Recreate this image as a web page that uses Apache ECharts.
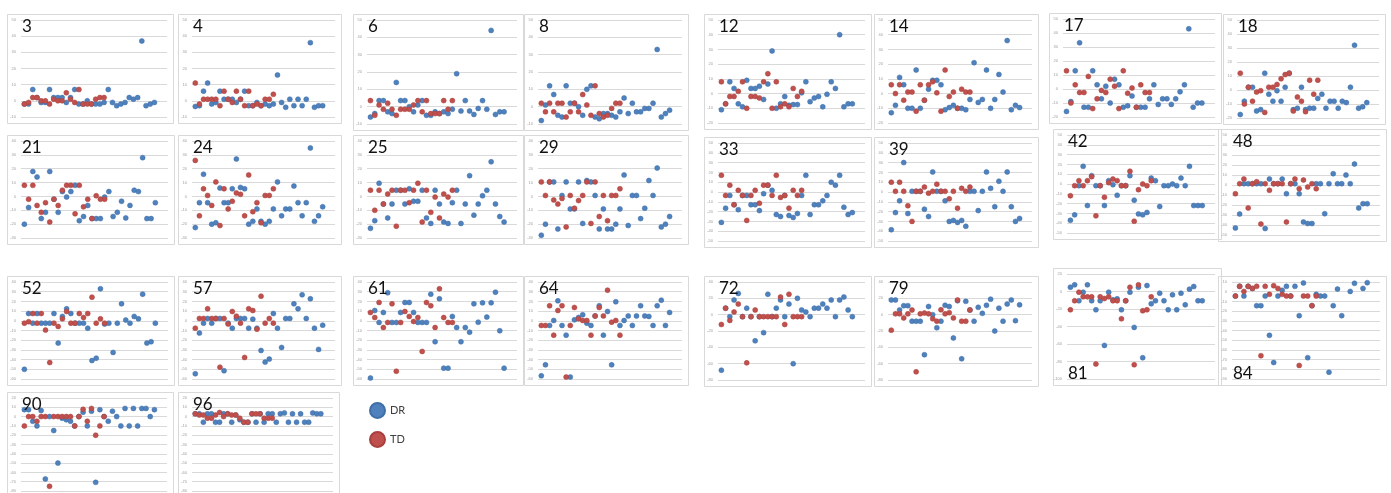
<!DOCTYPE html>
<html>
<head>
<meta charset="utf-8">
<script src="https://cdn.jsdelivr.net/npm/echarts@6/dist/echarts.min.js"></script>
<style>
  html, body { margin: 0; padding: 0; background: #fff; }
  #main { width: 1391px; height: 493px; }
</style>
</head>
<body>
<div id="main"></div>
<script>
// DR / TD values for each subject, one column per measurement
var dr3 = [-2,-2,7,2,-1,-1,7,2,2,2,-1,2,7,-2,-2,0,-2,-2,-2,-1,7,-1,-3,-2,-1,2,1,2,37,-3,-2,-1];
var td3 = [-2,-1,2,2,0,0,-2,1,0,0,5,1,-1,7,-2,-2,-2,1,2,2];
var dr4 = [-3.5,-3,6,11,-2,-1,6,1,1,1,-1,1,6,-3,-3,-1,-3,-2,-3,-2,16,-1,-4,1,-3,1,-3,1,36,-4,-3,-3];
var td4 = [11,-2,1,1,1,1,-3,6,1,-1,6,1,-3,6,-3,-2,-3,1,1,4];
var dr6 = [-6,-4,3.5,3.5,-3,-4,14,3.5,3.5,0,-3,1,3.5,-5,-5,-3,-4,-3,-4,-1.5,19,-2.5,3.5,-2.5,-4.5,-1,3.5,-1.5,44,-4.5,-3,-3];
var td6 = [3.5,-5,1,-1.5,2,-1.5,-5,-1.5,-1.5,-1.5,1,3.5,-3,3.5,-4,-4,-4,3.5,-1.5,3.5];
var dr8 = [-8,1,12,7,-5,-6,12,2,2,0,-5,10,12,-6,-7,-4,-4,-5,-6,-3,5,-4,2,-3,-3,-1,-1,2,33,-6,-4,-2];
var td8 = [2,-3,2,-3,2,2,-6,-3,2,-3,7,1,-5,12,-4,-6,-5,-1,2,2];
var dr12 = [-11,-7,8,3.5,-7,-9,9,3.5,3.5,5,-4,6.5,29,-10,-7,-2,-8,-7.5,-7.5,0.5,8,-5.5,-3,-2,-9,-0.5,8,3.5,40,-9,-7,-7];
var td12 = [8,-7,-2,-2,1.5,8,-10,-2,-2,-3,8,13.5,-10,8,-9,-7,-9,3.5,-2,1.5];
var dr14 = [-13,-8,11,6,-10,-10,16,-10,-4.5,3,9,9,6,-11,-9.5,-8,-10,-10,-11,-4,21,-6,-4,16,-10,-4,13,1,36,-11,-8,-9.5];
var td14 = [6,0,6,-4.5,1,1,-12,6,-4.5,6,8,0.5,-12,16,-2,1,-10,3,1,1];
var dr17 = [-16,-9,13,33,-13,-13,13,3,-7,2,-10,7,3,-13,-12,-5,-13,-13,-13,-7,3,-11,-7,-7,-11,-7,-2,3,43,-13,-10,-10];
var td17 = [13,-10,3,-2.5,-2.5,9,-14,-7,-1,-2.5,7,2,-14,13,-3,0.7,-13,3,-2.5,-2.5];
var dr18 = [-17.5,-8,2,2,-15,-14,12,-3,-8,-0.5,-8,2,12,-14,-13,2,-14,-13,-13,-6,-3,-13,-8,-8,-13,-8,-9,2,32,-13,-12,-9];
var td18 = [12,-10,2,-8,-1.5,-0.5,-16,2,2,4,8,11,12,-15,-5,-8,-15.5,7,-3,7];
var dr21 = [-20,-8,18,14,-16,-11.5,18,-2,-11.5,3.5,-0.5,3.5,8,-17.5,-14.5,-6.5,-16,-16,-16,-0.5,3.5,-14.5,-11.5,-3.5,-15.5,-6.5,4.5,3.5,28,-16,-16,-4.5];
var td21 = [8,-2,8,-6.5,-11.5,-4.5,-18.5,-2,-6.5,4.5,8,8,-12.5,8,-7.5,-2,-16,0.5,-2,-2];
var dr24 = [-22.5,-4.5,16,-4.5,-20,-19,6,-4.5,-4.5,5.5,27,6.5,5.5,-20,-18,-9,-18,-20,-18,-9,10.5,-14,-9,-9,7.5,-4.5,-14,-4.5,35,-18,-14,-7.5];
var td24 = [26,-14,5.5,0.7,-6.5,10.5,-21,5.5,-9,-3.5,2.5,1.5,-14,15.5,-11,-4.5,-19,0.7,0.7,5.5];
var dr25 = [-23,-17.5,9.5,-5.5,-15.5,-5.5,4.5,4.5,-5.5,5.5,-3.5,-3.5,4.5,-15.5,-19.5,4.5,-5.5,-18.5,-19.5,-4.5,4.5,-19.5,-5.5,15,-13.5,-5.5,0.5,4.5,25,-5.5,-14.5,-18.5];
var td25 = [4.5,-10,4.5,-5.5,1.7,4.5,-21.5,4.5,4.5,-4.5,4.5,9.5,-18.5,4.5,-11.5,-0.5,-15.5,1.7,-0.5,4.5];
var dr29 = [-28,-20,10.5,10.5,-23.5,0.7,10.5,-9,-9,10.5,-19.5,11.5,10.5,0.7,-23.5,-9,-23.5,-23.5,-20,-9,15.5,-21,0.7,0.7,-16,-8.5,11.5,0.7,20.5,-22,-20,-14.5];
var td29 = [10.5,0.7,10.5,-2.5,-5.5,-1.5,-22,0.7,-8.5,-3,0.7,10.5,-19.5,10.5,-14.5,0.7,-17.5,0.7,0.7,5.5];
var dr33 = [-31,-16.5,-3.5,-13,-18,-3.5,-3.5,-13,-13,-19,-1.7,7,1.7,-23,-25,-3.5,-24,-26,-22,-3.5,17,-23,-13,-13,-9,-3.5,10,7,17,-15.5,-23,-21];
var td33 = [17,-3.5,7,-13,1.7,-3.5,-29,-3.5,1.7,-11.5,7,7,-3.5,17,-5.5,-3.5,-16.5,1.7,-3.5,1.7];
var dr39 = [-38.5,-21,-9,30,-22,0.7,0.7,0.7,-17.5,-25,20.5,0.7,0.7,-9,-30,-29,-31,-29,-35,0.7,0.7,-19,0.7,20.5,3.7,-15,11,0.7,20.5,-15,-30,-27];
var td39 = [10,0.7,10,0.7,-14,-30,0.7,0.7,5,-1.2,0.7,8,0.7,0.7,-7,0.7,-16.5,3.7,0.7,5];
var dr42 = [-37,-31.5,-1.7,18,-22,8.5,-1.7,-1.7,-22,3.4,-0.7,-11.5,-1.7,-1.7,8.5,-16.5,-30.5,-31.5,-29,6,3.4,-23,-1.7,-1.7,0,-1.7,6,-1.7,18,-22,-22,-22];
var td42 = [-12,-1.7,3.4,-1.7,3.4,7.5,-32.5,-1.7,-13.5,1.4,5,3.4,-1.7,-1.7,13,-38,-5.8,0,-1.7,3.4];
var dr48 = [-43,-29,1.3,1.3,1.3,1.3,1.3,-43.5,6,1.3,1.3,6,-8.7,1.3,1.3,-8.7,-37,-38.5,-38.5,1.3,1.3,-28.7,1.3,11.3,1.3,1.3,10,1.3,21,-23,-18.7,-18.7];
var td48 = [-8.7,1.3,6,-23,1.3,3.3,-39,1.3,-5.3,1.3,1.3,1.3,-37,1.3,6,-3.7,5,-2,1.3,-3.7];
var dr52 = [-50,7.5,-2.4,7.5,-2.4,-2.4,-2.4,7.5,-23,4.5,12.4,7.5,-2.4,-2.4,-2.4,-7.6,-41,-38.5,33,-3.4,-2.4,-32.6,-2.4,17.5,0.7,-2.4,4.5,2,27.5,-23,-21.6,-2.4];
var td52 = [-2.4,-1,7.5,-2.4,7.5,-9.6,-43,-2.4,-5.8,2,9.6,-2.4,-2.4,7.5,3.4,7.5,24.4,-2.4,2,-2.4];
var dr57 = [-54.6,-12.7,-2.4,2.4,-2.4,2.4,2.4,-51.5,-2.4,-7.6,2.4,2.4,2.4,-7.6,1.7,-7.6,-30.6,-42.6,-39.5,7.5,-7.6,-27.5,2.4,2.4,17.5,12.4,26.8,2.4,22.7,-7.6,-29.5,-4.5];
var td57 = [-7.6,2.4,2.4,12.4,2.4,2.4,-47.8,2.4,-3.4,9.6,4.8,-2.4,-37.8,12.4,10.6,-8.6,25.4,-2.4,2.4,-2.4];
var dr61 = [-59,10.6,-1.7,8.6,28.9,-1.7,-1.7,8.6,18.9,18.9,8.6,-1.7,-1.7,-1.7,27.5,-21.6,22.7,-48.8,-48.8,4.5,-6.9,-21.6,-6.9,-11.7,17.5,-1.4,18.5,3.8,18.5,29.5,-10.3,-48.8];
var td61 = [8.6,3.4,18.9,-6.9,-1.7,17.5,-52,-1.7,9.6,4.5,-0.7,3.4,-31.6,18.9,15.5,-6.9,33,3.4,-1.7,-1.7];
var dr64 = [-56.7,-45.4,-4.8,0.3,20.6,-4.8,-14.8,-58,1,3.4,6.2,-2.4,-4.8,5,15.5,-14.8,9.6,-45.4,19.6,-4.8,0.3,5,-4.8,5,15.5,5,4.5,-4.8,15.5,21.3,-4.8,8.6];
var td64 = [-4.8,-4.8,15.5,-14.8,10.6,15.5,-58,-4.8,13.7,2,0.3,0.3,-14.8,5,13.7,5,31.6,-1.4,0.3,-14.8];
var dr72 = [-68,8,-2.4,18,26,-2.4,8,-2.4,-32,-2.4,-22,25,-2.4,8,18,-2.4,13,-60,20,5.7,3.3,-2.4,8,8,13,8,18,-2.4,18,21.6,5.7,-2.4];
var td72 = [-12,8,-7,3.3,13,-2.4,-59,-2.4,5.7,-2.4,-2.4,-2.4,-2.4,-2.4,21.6,-12,25,-2.4,-2.4,-2.4];
var dr79 = [18,18,5.7,11,11,-8,-8,-8,-49,10,0,-16,-8,11.5,10,-28.5,17,-54,16.3,5.7,-8,9,1.6,11.5,19,-20,8,-8,13,18,-7.3,12];
var td79 = [-19,1,1,-4,1,5.7,-70,1,2,1,-5,-8,6,1,2.5,-4,18,-8,-8,5.7];
var dr81 = [4.9,7.6,-10.6,-0.8,7.6,-10.6,-20.9,-10.6,-61.6,-0.8,-9.5,-8.4,-20.9,-10.6,-0.8,-41,4.9,-75.7,6.8,-14,-10.6,-1.9,-10.6,-20.9,-3.8,-20.9,-1.9,-15.2,2.7,5.7,-10.6,-10.6];
var td81 = [-20.9,-10.6,-0.8,-6.1,-6.1,-6.1,-82.9,-6.1,-8,-6.1,-10.6,-10.6,-31.2,-10.6,4.9,-83.7,7.6,-22,-20.9,-6.1];
var dr84 = [-4.5,5.5,-4.5,5.5,3.4,-14.4,-14.4,-4.5,-45,-73,-4.5,1.4,5.5,-4.5,5.5,-24.7,9,-68,-14.4,-2.7,-4.5,-4.5,-83,-14.4,2.7,-24.7,null,0.3,8.6,null,3.4,9.3];
var td84 = [-4.5,5.5,0.3,5.5,3.4,5.5,-66,5.5,-2.7,6.2,3.4,-2.7,-4.5,-4.5,null,-76,-4.5,-4.5,-14.4,-4.5];
var dr90 = [7.5,7.5,-5,-10,6.5,-67,0,-15,-50,-1.7,-3.4,-5,-10,0,4.8,-10,5.8,-70.7,7.5,0,-5,5.8,0,-10,8.8,-10,8.8,-10,8.8,8.8,0,7.5];
var td90 = [-10,0,0,-5,0,0,-75,0,0,0,0,0,-10,0,7.8,-5,8.8,-20,-10,0];
var dr96 = [3,3,-6,3,3,-6,-6,3,3,-6,1.7,-3.4,-6,-6,3,-6,3,-6,3,3,-6,3,4,-6,3,-6,3,-6,-6,4,3,3];
var td96 = [3,1.7,1.7,-1.7,-1.7,1.7,4.4,0,3,1.7,1.7,-1.7,-6,-6,3,3,3,-1.7,-1.7,-1.7];

// panel names and their y axis ticks
var panelNames = ['3','4','6','8','12','14','17','18','21','24','25','29','33','39','42','48','52','57','61','64','72','79','81','84','90','96'];
var yMins = [-10,-10,-10,-10,-20,-20,-20,-20,-30,-30,-30,-30,-50,-50,-50,-50,-60,-60,-60,-60,-80,-80,-100,-90,-80,-80];
var yMaxs = [50,50,50,50,50,50,50,50,40,40,40,40,50,50,50,50,40,40,40,40,40,40,20,10,20,20];
var yIntervals = [10,10,10,10,10,10,10,10,10,10,10,10,10,10,10,10,10,10,10,10,20,20,20,10,10,10];
var drSets = [dr3,dr4,dr6,dr8,dr12,dr14,dr17,dr18,dr21,dr24,dr25,dr29,dr33,dr39,dr42,dr48,dr52,dr57,dr61,dr64,dr72,dr79,dr81,dr84,dr90,dr96];
var tdSets = [td3,td4,td6,td8,td12,td14,td17,td18,td21,td24,td25,td29,td33,td39,td42,td48,td52,td57,td61,td64,td72,td79,td81,td84,td90,td96];

// plot area of every small chart: left, top, right, bottom (px)
var plotBoxes = [
  [21,20,167,117],[192,20,335,117],[367,20,517,124],[538,20,682,124],
  [718,20,865,123],[888,20,1032,123],[1063,19,1215,117],[1237,20,1379,118],
  [21,141,168,238],[192,141,335,238],[367,141,517,238],[538,141,682,238],
  [718,143,865,241],[888,143,1032,241],[1067,135,1215,233],[1232,135,1380,235],
  [21,282,168,379],[192,282,335,379],[367,282,517,379],[538,282,682,379],
  [718,282,865,380],[888,282,1032,380],[1067,274,1215,379],[1232,282,1380,379],
  [21,398,167,496],[192,398,333,496]
];
// these two have the number at the bottom
var bottomLabel = {'81': true, '84': true};

var blue = '#4f81bd', red = '#c0504d';

function toPoints(vals){
  var out = [];
  for (var i = 0; i < vals.length; i++) {
    if (vals[i] !== null) out.push([i + 1, vals[i]]);
  }
  return out;
}

var grids = [], xAxes = [], yAxes = [], series = [], graphics = [];

for (var i = 0; i < panelNames.length; i++) {
  var b = plotBoxes[i];
  grids.push({ left: b[0], top: b[1], width: b[2] - b[0], height: b[3] - b[1], containLabel: false });
  xAxes.push({ type: 'value', gridIndex: i, min: 0.2, max: drSets[i].length + 3, show: false });
  yAxes.push({
    type: 'value', gridIndex: i,
    min: yMins[i], max: yMaxs[i], interval: yIntervals[i],
    axisLine: { show: false },
    axisTick: { show: false },
    axisLabel: { fontSize: 4, color: '#a0a0a0', margin: 5, fontFamily: 'Liberation Sans' },
    splitLine: { lineStyle: { color: '#d9d9d9', width: 1 } }
  });
  series.push({
    name: 'DR', type: 'scatter', xAxisIndex: i, yAxisIndex: i,
    symbolSize: 5,
    itemStyle: { color: blue, borderColor: '#3f6fa8', borderWidth: 0.5, opacity: 1 },
    data: toPoints(drSets[i])
  });
  series.push({
    name: 'TD', type: 'scatter', xAxisIndex: i, yAxisIndex: i,
    symbolSize: 5,
    itemStyle: { color: red, borderColor: '#a8403d', borderWidth: 0.5, opacity: 1 },
    data: toPoints(tdSets[i])
  });

  // chart frame
  graphics.push({
    type: 'rect', z: -10, silent: true,
    shape: { x: b[0] - 14 + 0.5, y: b[1] - 6 + 0.5, width: b[2] - b[0] + 20, height: b[3] - b[1] + 12 },
    style: { fill: 'none', stroke: '#d9d9d9', lineWidth: 1 }
  });
  // big subject number
  var ty = bottomLabel[panelNames[i]] ? b[3] - 14 : b[1] - 2;
  graphics.push({
    type: 'text', z: 100, silent: true,
    x: b[0] + 1, y: ty,
    style: { text: panelNames[i], fontSize: 17, fontFamily: 'Lato', fill: '#111', verticalAlign: 'top' }
  });
}

var option = {
  animation: false,
  backgroundColor: '#fff',
  grid: grids,
  xAxis: xAxes,
  yAxis: yAxes,
  legend: {
    data: ['DR', 'TD'],
    orient: 'vertical',
    left: 364,
    top: 397,
    icon: 'circle',
    itemWidth: 15,
    itemHeight: 15,
    itemGap: 12,
    textStyle: { fontSize: 11, color: '#404040', fontFamily: 'Lato' }
  },
  graphic: graphics,
  series: series
};

var myChart = echarts.init(document.getElementById('main'));
myChart.setOption(option);

window.addEventListener("resize", function(){
  myChart.resize();
});
</script>
</body>
</html>
